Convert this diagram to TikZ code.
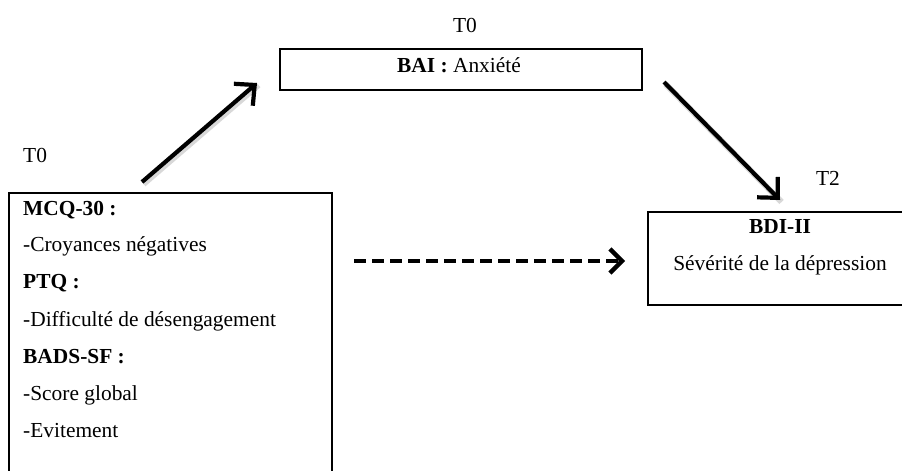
\documentclass[tikz,border=0pt]{standalone}
\usepackage{fontspec}
\setmainfont{Liberation Serif}
\usetikzlibrary{arrows.meta}
\tikzset{
  boxframe/.style={draw=black, line width=2pt, inner sep=0pt},
  txt/.style={inner sep=0pt, font=\fontsize{21.4}{25}\selectfont},
  solidarrow/.style={line width=4.2pt, -{Straight Barb[length=15pt,width=29pt,line width=4.2pt]}},
  dasharrow/.style={line width=4.4pt, dash pattern=on 12pt off 6pt, -{Straight Barb[length=12pt,width=24pt,line width=4.4pt]}},
  shadowline/.style={line width=6pt, black!30, opacity=0.5}
}
\begin{document}
\begin{tikzpicture}[x=1pt,y=-1pt]
\useasboundingbox (0,0) rectangle (902,471);
\clip (0,0) rectangle (902,471);
% boxes
\node[boxframe, minimum width=362pt, minimum height=41pt] (topbox) at (461,69.5) {};
\node[boxframe, minimum width=323pt, minimum height=300pt] (leftbox) at (170.5,343) {};
\node[boxframe, minimum width=280pt, minimum height=93pt] (rightbox) at (788,258.5) {};
% labels
\node[txt, anchor=base] (t0top) at (465,32) {T0};
\node[txt, anchor=base west] (t0left) at (23,162) {T0};
\node[txt, anchor=base] (t2) at (828,185) {T2};
\node[txt, anchor=base] (bai) at (459,72) {\textbf{BAI :} Anxiété};
\node[txt, anchor=base west] (l1) at (23,215) {\textbf{MCQ-30 :}};
\node[txt, anchor=base west] (l2) at (23,251) {-Croyances négatives};
\node[txt, anchor=base west] (l3) at (23,288) {\textbf{PTQ :}};
\node[txt, anchor=base west] (l4) at (23,326) {-Difficulté de désengagement};
\node[txt, anchor=base west] (l5) at (23,363) {\textbf{BADS-SF :}};
\node[txt, anchor=base west] (l6) at (23,400) {-Score global};
\node[txt, anchor=base west] (l7) at (23,437) {-Evitement};
\node[txt, anchor=base] (bdi) at (780,233) {\textbf{BDI-II}};
\node[txt, anchor=base] (sev) at (780,270) {Sévérité de la dépression};
% arrow end points
\coordinate (a1s) at (142,182);
\coordinate (a1e) at (257,83);
\coordinate (a2s) at (664,82);
\coordinate (a2e) at (780,200);
\coordinate (a3s) at (354,261);
\coordinate (a3e) at (625,261);
% shadows
\draw[shadowline] ([shift={(1.5,2)}]a1s) -- ([shift={(1.5,2)}]a1e);
\draw[shadowline] ([shift={(1.5,2)}]a2s) -- ([shift={(1.5,2)}]a2e);
% arrows
\draw[solidarrow] (a1s) -- (a1e);
\draw[solidarrow] (a2s) -- (a2e);
\draw[dasharrow] (a3s) -- (a3e);
\end{tikzpicture}
\end{document}
